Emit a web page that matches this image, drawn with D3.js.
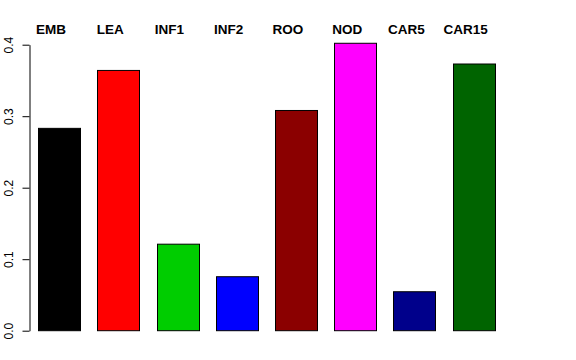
<!DOCTYPE html>
<html><head><meta charset="utf-8">
<script src="https://cdn.jsdelivr.net/npm/d3@7"></script>
<style>body{margin:0;background:#fff}svg{display:block}</style>
</head><body>
<script>
const categories = ["EMB","LEA","INF1","INF2","ROO","NOD","CAR5","CAR15"];
const values = [0.283, 0.364, 0.121, 0.0755, 0.308, 0.402, 0.0545, 0.373];
const colors = ["#000000","#FF0000","#00CD00","#0000FF","#8B0000","#FF00FF","#00008B","#006400"];
const yTicks = [0.0, 0.1, 0.2, 0.3, 0.4];

const W = 576, H = 360;
const svg = d3.select("body").append("svg").attr("width", W).attr("height", H);

const y = d3.scaleLinear().domain([0, 0.4]).range([330.7, 44.7]);
const x = d3.scaleBand().domain(categories).range([29.4, 29.4 + 59.24*8]).paddingInner(17.24/59.24).paddingOuter(17.24/59.24/2);

svg.selectAll("rect.bar").data(categories).enter().append("rect")
  .attr("class","bar")
  .attr("x", d => Math.round(x(d)) + 0.5)
  .attr("y", (d,i) => y(values[i]))
  .attr("width", Math.round(x.bandwidth()))
  .attr("height", (d,i) => y(0) - y(values[i]))
  .attr("fill", (d,i) => colors[i])
  .attr("stroke", "#000").attr("stroke-width", 1);

svg.selectAll("text.lab").data(categories).enter().append("text")
  .attr("class","lab")
  .attr("x", d => x(d) + x.bandwidth()/2 - 8)
  .attr("y", 34)
  .attr("text-anchor","middle")
  .attr("font-family","Liberation Sans, Arial, sans-serif")
  .attr("font-weight","bold")
  .attr("font-size", 13.5)
  .text(d => d);

const axis = d3.axisLeft(y).tickValues(yTicks).tickFormat(d3.format(".1f")).tickSize(7).tickSizeOuter(0);
const g = svg.append("g").attr("transform","translate(29.5,0)").call(axis);
g.select(".domain").attr("stroke","#000");
g.selectAll(".tick line").attr("stroke","#000");
g.selectAll(".tick text")
  .attr("font-family","Liberation Sans, Arial, sans-serif")
  .attr("font-size", 12)
  .attr("fill","#000")
  .attr("transform","rotate(-90)")
  .attr("x", 0).attr("y", -17)
  .attr("dy", 0)
  .attr("text-anchor","middle");
</script>
</body></html>
